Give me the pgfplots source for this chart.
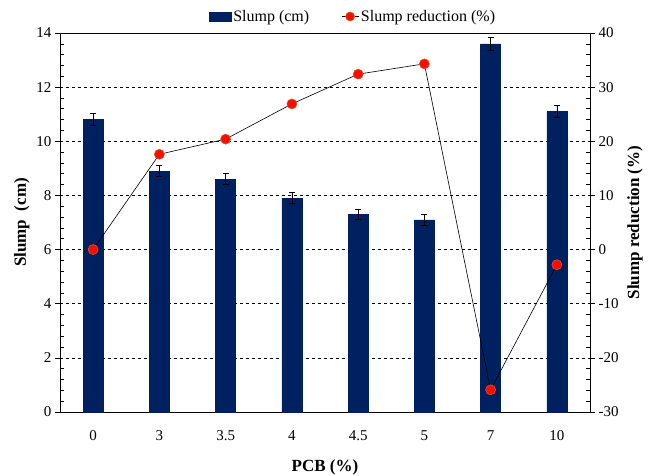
\documentclass[border=0pt]{standalone}
\usepackage{pgfplots}
\pgfplotsset{compat=1.18}
\usepackage{fontspec}
\setmainfont{Liberation Serif}
\definecolor{navy}{RGB}{0,32,96}
\definecolor{mkred}{RGB}{255,10,0}
\definecolor{mkedge}{RGB}{220,90,20}
\begin{document}
\begin{tikzpicture}
\path[use as bounding box] (-60pt,-64pt) rectangle (590pt,412pt);
\begin{axis}[
  at={(0pt,0pt)}, anchor=south west,
  scale only axis, width=530pt, height=379pt,
  xmin=-0.5, xmax=7.5, ymin=0, ymax=14,
  xtick={0,1,2,3,4,5,6,7},
  xticklabels={0,3,3.5,4,4.5,5,7,10},
  major x tick style={draw=none},
  ytick={0,2,4,6,8,10,12,14},
  minor y tick num=4,
  ytick pos=left,
  tick align=outside,
  major tick length=5pt,
  minor tick length=4pt,
  minor y tick style={xshift=4pt},
  ymajorgrids,
  major grid style={dashed, black, line width=0.6pt},
  axis line style={line width=0.9pt},
  tick style={black, line width=0.6pt},
  tick label style={font=\fontsize{15}{17}\selectfont},
  /pgf/number format/assume math mode=true,
  xticklabel style={yshift=-10pt},
  xlabel={\textbf{PCB (\%)}},
  xlabel style={font=\fontsize{17}{19}\selectfont, yshift=-12pt},
  ylabel={\textbf{Slump\ \ (cm)}},
  ylabel style={font=\fontsize{17}{19}\selectfont, yshift=0pt},
  legend style={at={(0.5,1)}, anchor=south, yshift=6pt, xshift=28pt, draw=none, fill=none,
    font=\fontsize{16}{18}\selectfont, legend columns=2,
    /tikz/every even column/.append style={column sep=30pt}},
  legend cell align=left,
]
\addplot[ybar, bar width=20pt, fill=navy, draw=navy,
  legend image code/.code={\fill[navy] (0pt,-4.5pt) rectangle (22pt,4.5pt);},
  error bars/.cd, y dir=both, y explicit,
  error bar style={black, line width=0.7pt},
  error mark options={black, line width=0.7pt, mark size=3pt, rotate=90}]
  coordinates {
  (0,10.8) +- (0,0.22)
  (1,8.9) +- (0,0.2)
  (2,8.6) +- (0,0.2)
  (3,7.9) +- (0,0.2)
  (4,7.3) +- (0,0.2)
  (5,7.1) +- (0,0.2)
  (6,13.6) +- (0,0.25)
  (7,11.1) +- (0,0.22)
};
\addlegendentry{Slump (cm)}
\addlegendimage{black, line width=0.6pt, mark=*, mark size=4.5pt, mark options={fill=mkred, draw=mkedge}}
\addlegendentry{Slump reduction (\%)}
\end{axis}
\begin{axis}[
  at={(0pt,0pt)}, anchor=south west,
  scale only axis, width=530pt, height=379pt,
  xmin=-0.5, xmax=7.5, ymin=-30, ymax=40,
  axis x line=none,
  axis y line*=right,
  ytick={-30,-20,-10,0,10,20,30,40},
  minor y tick num=4,
  tick align=outside,
  major tick length=5pt,
  minor tick length=4pt,
  minor y tick style={xshift=-4pt},
  axis line style={line width=0.9pt},
  tick style={black, line width=0.6pt},
  tick label style={font=\fontsize{15}{17}\selectfont},
  /pgf/number format/assume math mode=true,
  ylabel={\textbf{Slump reduction (\%)}},
  ylabel style={font=\fontsize{17}{19}\selectfont, yshift=-2pt},
]
\addplot[black, line width=0.6pt, mark=*, mark size=5pt,
  mark options={fill=mkred, draw=mkedge, line width=0.6pt}]
  coordinates {
  (0,0) (1,17.6) (2,20.4) (3,26.9) (4,32.4) (5,34.3) (6,-25.9) (7,-2.8)
};
\end{axis}
\end{tikzpicture}
\end{document}
